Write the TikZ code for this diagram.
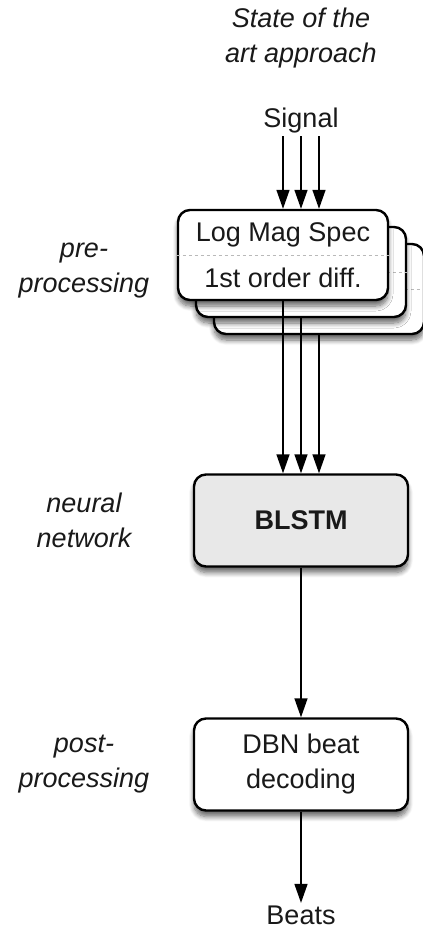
\documentclass[tikz,border=0pt]{standalone}
\usepackage{fontspec}
\setmainfont{Liberation Sans}
\usepackage{tikz}
\usetikzlibrary{arrows.meta}
\usetikzlibrary{shadows.blur}

\begin{document}
\begin{tikzpicture}[x=1pt,y=-1pt,-{Triangle[length=19pt,width=13pt]},line width=1.4pt,
  text=black!90,font=\fontsize{27}{35}\selectfont,
  stage box/.style={rectangle,rounded corners=12pt,draw,line width=2.4pt,fill=white,
    minimum width=214pt,minimum height=92pt,align=center,inner sep=2pt,
    blur shadow={shadow xshift=0pt,shadow yshift=-6pt,shadow blur steps=8,shadow blur radius=5pt,shadow opacity=60}},
  spec box/.style={stage box,minimum width=210pt,minimum height=90pt},
  plain text/.style={inner sep=2pt,align=center},
  side label/.style={plain text,font=\fontsize{27}{35}\selectfont\itshape}]

  \useasboundingbox (0,0) rectangle (423,930);

  \node[side label] (title) at (301,38) {State of the\\art approach};
  \node[plain text] (signal) [below of=title,node distance=83pt] {Signal};

  % stacked input boxes, back to front
  \node[spec box] (spec3) [below of=signal,node distance=168pt,xshift=18pt] {};
  \draw[-,dashed,gray!55,line width=0.8pt] (spec3.west) -- (spec3.east);
  \node[spec box] (spec2) [below of=signal,node distance=151pt] {};
  \draw[-,dashed,gray!55,line width=0.8pt] (spec2.west) -- (spec2.east);
  \node[spec box] (spec1) [below of=signal,node distance=134pt,xshift=-18pt] {Log Mag Spec\\[11pt]1st order diff.};
  \draw[-,dashed,gray!55,line width=0.8pt] (spec1.west) -- (spec1.east);

  \node[stage box,fill=black!9] (blstm) [below of=signal,node distance=399.5pt] {\bfseries BLSTM};
  \node[stage box] (dbn) [below of=blstm,node distance=244pt] {DBN beat\\decoding};
  \node[plain text] (beats) [below of=dbn,node distance=150.5pt] {Beats};

  \node[side label] (pre) [left of=spec1,node distance=199pt,yshift=-16pt] {pre-\\processing};
  \node[side label] (nn) [left of=blstm,node distance=217pt] {neural\\network};
  \node[side label] (post) [left of=dbn,node distance=217pt] {post-\\processing};

  \draw (signal.south -| spec1.north) -- (spec1.north);
  \draw (signal.south -| spec2.north) -- (spec1.north -| spec2.north);
  \draw (signal.south -| spec3.north) -- (spec1.north -| spec3.north);

  \draw (spec1.south) -- (spec1.south |- blstm.north);
  \draw (spec2.south) -- (spec2.south |- blstm.north);
  \draw (spec3.south) -- (spec3.south |- blstm.north);

  \draw (blstm) -- (dbn);
  \draw (dbn) -- (beats);
\end{tikzpicture}
\end{document}
